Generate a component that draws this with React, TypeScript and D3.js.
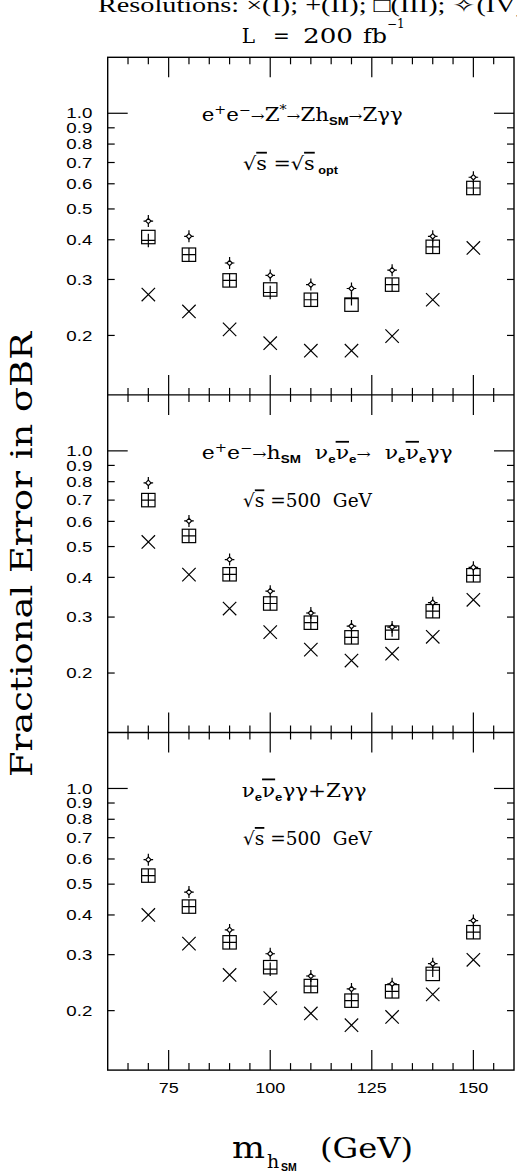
import React from "react";
import * as d3 from "d3";

// Higgs mass points (GeV)
const masses = [70, 80, 90, 100, 110, 120, 130, 140, 150];

// e+e- -> Z* -> Z h_SM -> Z gamma gamma, sqrt(s) = sqrt(s)_opt
const zhResI = [0.269, 0.238, 0.209, 0.189, 0.179, 0.179, 0.199, 0.259, 0.377];
const zhResII = [0.398, 0.359, 0.298, 0.273, 0.259, 0.261, 0.289, 0.38, 0.582];
const zhResIII = [0.408, 0.359, 0.298, 0.279, 0.259, 0.25, 0.289, 0.38, 0.582];
const zhResIV = [0.458, 0.41, 0.338, 0.309, 0.289, 0.281, 0.321, 0.41, 0.629];

// e+e- -> h_SM nu nubar -> nu nubar gamma gamma, sqrt(s) = 500 GeV
const wwResI = [0.517, 0.408, 0.319, 0.269, 0.237, 0.219, 0.23, 0.26, 0.34];
const wwResII = [0.7, 0.54, 0.409, 0.331, 0.288, 0.259, 0.273, 0.313, 0.406];
const wwResIII = [0.7, 0.54, 0.409, 0.331, 0.288, 0.259, 0.268, 0.313, 0.406];
const wwResIV = [0.793, 0.602, 0.455, 0.362, 0.309, 0.281, 0.279, 0.333, 0.43];

// combined nu nubar gamma gamma + Z gamma gamma, sqrt(s) = 500 GeV
const combResI = [0.4, 0.325, 0.259, 0.219, 0.196, 0.18, 0.191, 0.225, 0.289];
const combResII = [0.532, 0.425, 0.328, 0.27, 0.239, 0.215, 0.23, 0.268, 0.353];
const combResIII = [0.532, 0.425, 0.328, 0.274, 0.239, 0.215, 0.23, 0.261, 0.353];
const combResIV = [0.597, 0.472, 0.359, 0.302, 0.257, 0.234, 0.243, 0.281, 0.384];

const xMajorTicks = [75, 100, 125, 150];
const xMinorTicks = [65, 70, 80, 85, 90, 95, 105, 110, 115, 120, 130, 135, 140, 145, 155];
const yTickLabels = ["1.0", "0.9", "0.8", "0.7", "0.6", "0.5", "0.4", "0.3", "0.2"];
const yMajorTicks = [1.0];
const yMinorTicks = [0.9, 0.8, 0.7, 0.6, 0.5, 0.4, 0.3, 0.2];

const xDomain = [60, 160];
const yDomain = [0.13, 1.5];

type Seg = { t: string; k?: "sup" | "sub" | "arr" | "ov" };

const panelSeries = [
  [zhResI, zhResII, zhResIII, zhResIV],
  [wwResI, wwResII, wwResIII, wwResIV],
  [combResI, combResII, combResIII, combResIV],
];

const nuBar: Seg[] = [{ t: "ν", k: "ov" }];

const panelTitles: Seg[][] = [
  [
    { t: "e" }, { t: "+", k: "sup" }, { t: "e" }, { t: "−", k: "sup" },
    { t: "→", k: "arr" }, { t: "Z" }, { t: "*", k: "sup" }, { t: "→", k: "arr" },
    { t: "Zh" }, { t: "SM", k: "sub" }, { t: "→", k: "arr" }, { t: "Zγγ" },
  ],
  [
    { t: "e" }, { t: "+", k: "sup" }, { t: "e" }, { t: "−", k: "sup" },
    { t: "→", k: "arr" }, { t: "h" }, { t: "SM", k: "sub" }, { t: "  ν" },
    { t: "e", k: "sub" }, ...nuBar, { t: "e", k: "sub" }, { t: "→", k: "arr" },
    { t: "  ν" }, { t: "e", k: "sub" }, ...nuBar, { t: "e", k: "sub" }, { t: "γγ" },
  ],
  [
    { t: "ν" }, { t: "e", k: "sub" }, ...nuBar, { t: "e", k: "sub" }, { t: "γγ+Zγγ" },
  ],
];

const energyLines: Seg[][] = [
  [{ t: "√" }, { t: "s", k: "ov" }, { t: " =√" }, { t: "s", k: "ov" }, { t: " opt", k: "sub" }],
  [{ t: "√" }, { t: "s", k: "ov" }, { t: " =500  GeV" }],
  [{ t: "√" }, { t: "s", k: "ov" }, { t: " =500  GeV" }],
];

const titleX = [201.7, 201.7, 241.7];
const titleW = [201, 251, 125];
const energyW = [95, 129, 129];

function Rich({ x, y, segs, len, size }: { x: number; y: number; segs: Seg[]; len: number; size: number }) {
  let cur = 0;
  const spans = segs.map((s, i) => {
    const target = s.k === "sup" ? -7 : s.k === "sub" ? 4 : 0;
    const dy = target - cur;
    cur = target;
    const props: any = {};
    if (s.k === "sup") props.fontSize = 12;
    if (s.k === "sub") {
      props.fontSize = 11;
      props.fontFamily = "Liberation Sans, Arial, sans-serif";
      props.fontWeight = "bold";
    }
    if (s.k === "arr") props.fontSize = 14;
    if (s.k === "ov") props.style = { textDecoration: "overline" };
    return (
      <tspan key={i} dy={dy !== 0 ? dy : undefined} {...props}>
        {s.t}
      </tspan>
    );
  });
  return (
    <text
      x={x}
      y={y}
      fontFamily="DejaVu Serif, serif"
      fontSize={size}
      textLength={len}
      lengthAdjust="spacingAndGlyphs"
      xmlSpace="preserve"
    >
      {spans}
    </text>
  );
}

const S = 6.7; // marker half-size

function Markers({ series, x, y }: { series: number[][]; x: any; y: any }) {
  const [rI, rII, rIII, rIV] = series;
  return (
    <g stroke="#000" strokeWidth={1.2} fill="none">
      {masses.map((m, i) => (
        <g key={m}>
          <path
            transform={`translate(${x(m)},${y(rI[i])})`}
            d={`M${-S},${-S}L${S},${S}M${-S},${S}L${S},${-S}`}
          />
          <rect x={x(m) - S} y={y(rIII[i]) - S} width={2 * S} height={2 * S} />
          <path
            transform={`translate(${x(m)},${y(rII[i])})`}
            d={`M${-S},0H${S}M0,${-S}V${S}`}
          />
          <g transform={`translate(${x(m)},${y(rIV[i])})`}>
            <path d="M0,-6V-2.7M0,2.7V6M-4.8,0H-2.7M2.7,0H4.8" />
            <path d="M0,-2.7L2.7,0L0,2.7L-2.7,0Z" fill="#fff" />
          </g>
        </g>
      ))}
    </g>
  );
}

export default function App() {
  const W = 517;
  const H = 1174;
  const left = 107.7;
  const right = 514;
  const top0 = 57.3;
  const ph = 337.6;

  const x = d3.scaleLinear().domain(xDomain).range([left, right]);
  const panels = [0, 1, 2].map((i) => {
    const top = top0 + i * ph;
    return {
      top,
      bottom: top + ph,
      y: d3.scaleLog().domain(yDomain).range([top + ph, top]),
    };
  });

  return (
    <svg
      width={W}
      height={H}
      viewBox={`0 0 ${W} ${H}`}
      style={{ position: "absolute", left: 0, top: 0, background: "#fff" }}
    >
      <rect width={W} height={H} fill="#fff" />

      {/* heading */}
      <text
        x={98}
        y={12}
        fontFamily="Liberation Serif, Times New Roman, serif"
        fontSize={20}
        textLength={427}
        lengthAdjust="spacingAndGlyphs"
      >
        Resolutions: ×(I); +(II); □(III); ✧(IV)
      </text>
      <g fontFamily="DejaVu Serif, serif" fontSize={20}>
        <text x={241.7} y={43}>L</text>
        <text x={273} y={43}>=</text>
        <text x={303} y={43} textLength={50} lengthAdjust="spacingAndGlyphs">200</text>
        <text x={363} y={43} textLength={24} lengthAdjust="spacingAndGlyphs">fb</text>
        <text x={387} y={28} fontSize={12}>−1</text>
      </g>

      {panels.map((p, pi) => (
        <g key={pi}>
          {/* y ticks, both sides, pointing inward */}
          <g stroke="#000" strokeWidth={1.2}>
            {yMajorTicks.map((v) => (
              <g key={"M" + v}>
                <line x1={left} x2={left + 20} y1={p.y(v)} y2={p.y(v)} />
                <line x1={right} x2={right - 20} y1={p.y(v)} y2={p.y(v)} />
              </g>
            ))}
            {yMinorTicks.map((v) => (
              <g key={"m" + v}>
                <line x1={left} x2={left + 7} y1={p.y(v)} y2={p.y(v)} />
                <line x1={right} x2={right - 7} y1={p.y(v)} y2={p.y(v)} />
              </g>
            ))}
            {/* x ticks on top and bottom edges */}
            {xMajorTicks.map((v) => (
              <g key={"xM" + v}>
                <line x1={x(v)} x2={x(v)} y1={p.top} y2={p.top + 20} />
                <line x1={x(v)} x2={x(v)} y1={p.bottom} y2={p.bottom - 20} />
              </g>
            ))}
            {xMinorTicks.map((v) => (
              <g key={"xm" + v}>
                <line x1={x(v)} x2={x(v)} y1={p.top} y2={p.top + 7} />
                <line x1={x(v)} x2={x(v)} y1={p.bottom} y2={p.bottom - 7} />
              </g>
            ))}
          </g>
          {/* y tick labels */}
          <g fontFamily="Liberation Sans, Arial, sans-serif" fontSize={14.5} textAnchor="end">
            {yTickLabels.map((t) => (
              <text
                key={t}
                x={92.3}
                y={p.y(+t)}
                dy="0.36em"
                textLength={26}
                lengthAdjust="spacingAndGlyphs"
              >
                {t}
              </text>
            ))}
          </g>
          <Rich x={titleX[pi]} y={p.top + 64} segs={panelTitles[pi]} len={titleW[pi]} size={18} />
          <Rich x={243} y={p.top + 112.5} segs={energyLines[pi]} len={energyW[pi]} size={18} />
          <Markers series={panelSeries[pi]} x={x} y={p.y} />
        </g>
      ))}

      {/* frame and panel dividers */}
      <g stroke="#000" strokeWidth={1.4} fill="none">
        <rect x={left} y={top0} width={right - left} height={3 * ph} />
        <line x1={left} x2={right} y1={top0 + ph} y2={top0 + ph} />
        <line x1={left} x2={right} y1={top0 + 2 * ph} y2={top0 + 2 * ph} />
      </g>

      {/* x tick labels */}
      <g fontFamily="Liberation Sans, Arial, sans-serif" fontSize={14.5} textAnchor="middle">
        {xMajorTicks.map((v) => (
          <text
            key={v}
            x={x(v)}
            y={1093.3}
            textLength={String(v).length * 10}
            lengthAdjust="spacingAndGlyphs"
          >
            {v}
          </text>
        ))}
      </g>

      {/* axis titles */}
      <text
        transform="translate(32,554.5) rotate(-90)"
        textAnchor="middle"
        fontFamily="DejaVu Serif, serif"
        fontSize={30}
        textLength={445}
        lengthAdjust="spacingAndGlyphs"
      >
        Fractional Error in σBR
      </text>
      <g fontFamily="DejaVu Serif, serif">
        <text x={232} y={1158} fontSize={30} textLength={33} lengthAdjust="spacingAndGlyphs">m</text>
        <text x={267} y={1168} fontSize={19}>h</text>
        <text
          x={281}
          y={1171}
          fontSize={10.5}
          fontFamily="Liberation Sans, Arial, sans-serif"
          fontWeight="bold"
        >
          SM
        </text>
        <text x={320} y={1158} fontSize={27} textLength={93} lengthAdjust="spacingAndGlyphs">(GeV)</text>
      </g>
    </svg>
  );
}
